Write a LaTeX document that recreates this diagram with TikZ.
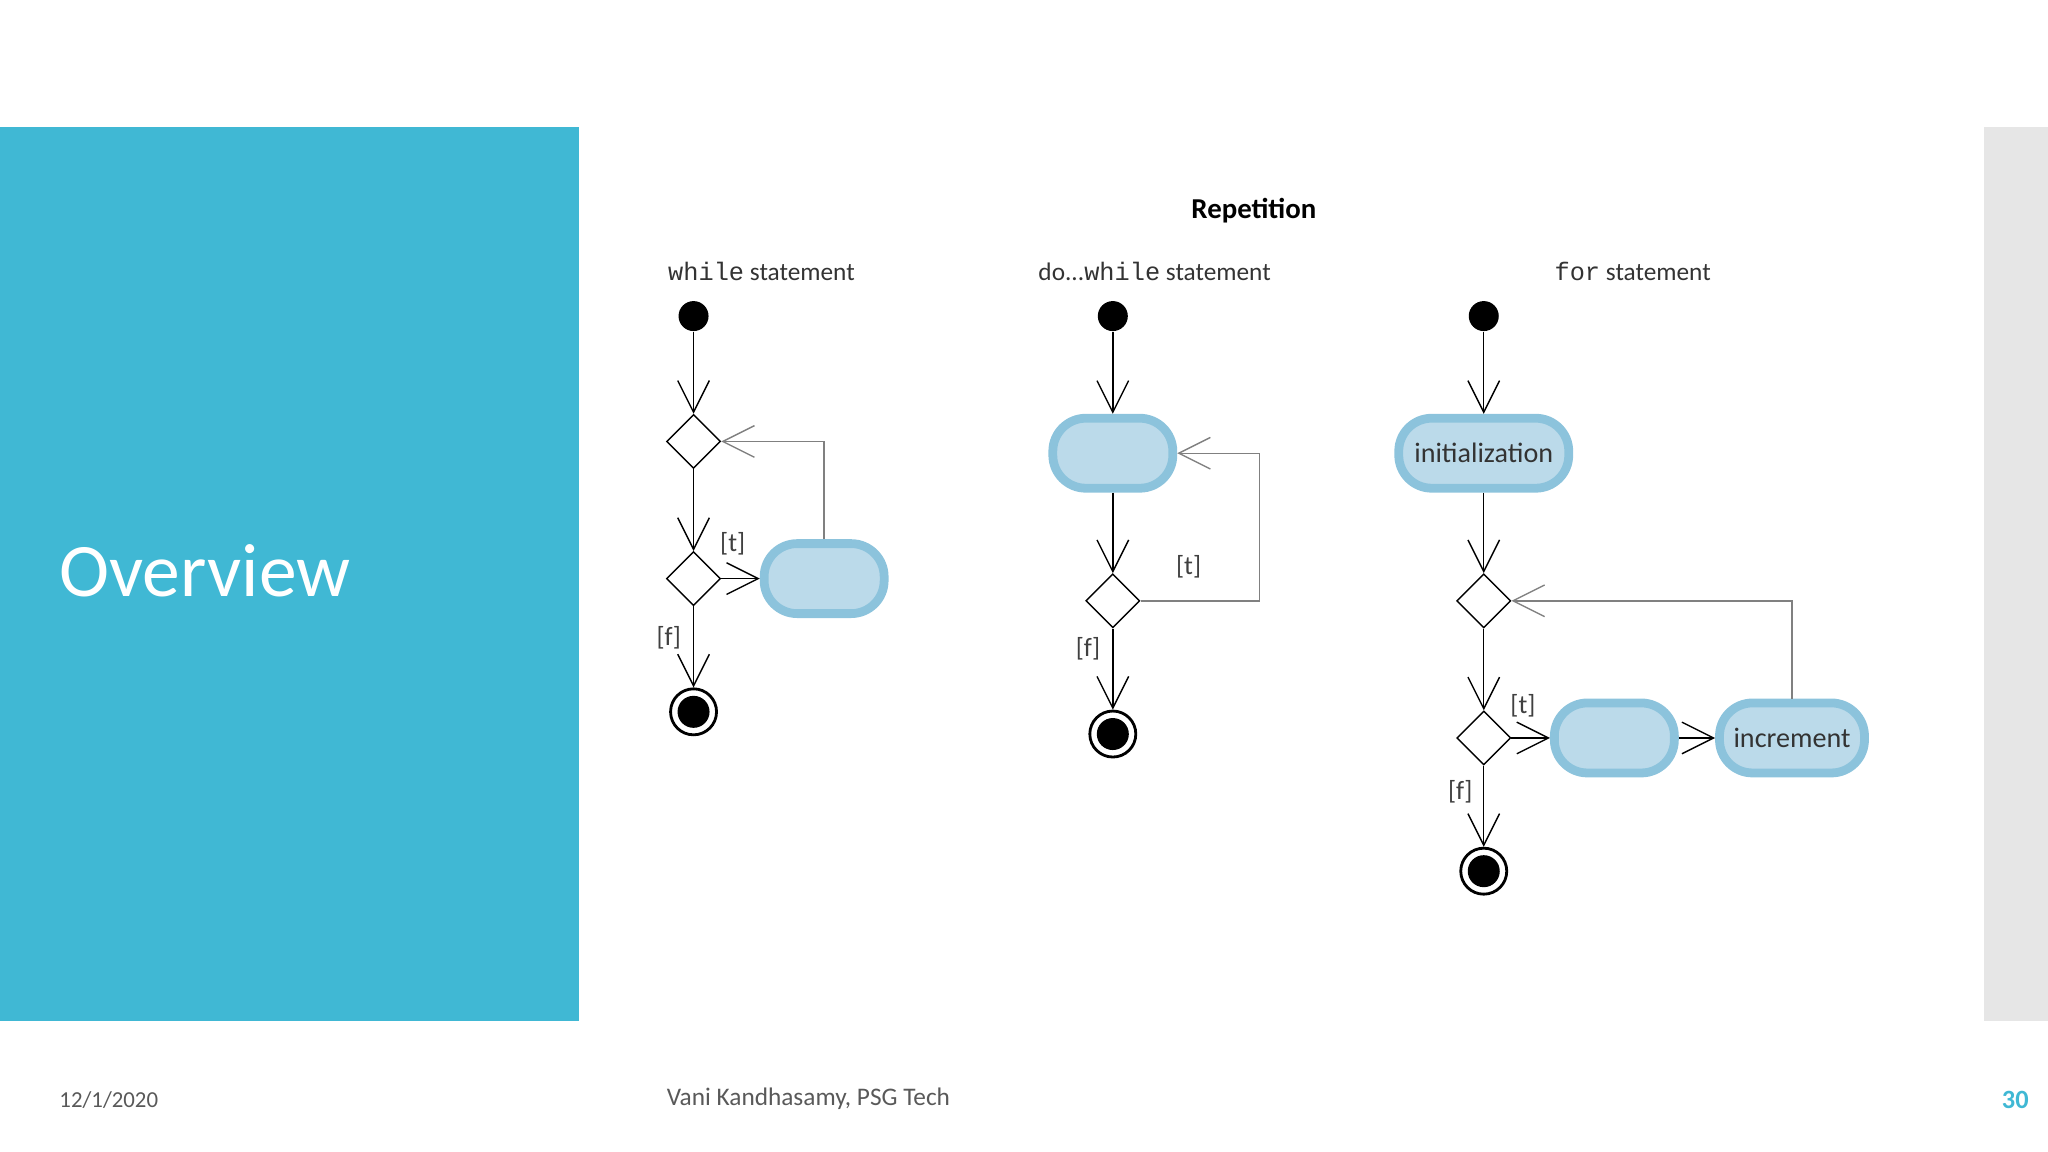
\documentclass[tikz,border=0pt]{standalone}
\usepackage{fontspec}
\setmainfont{Carlito}
\newfontfamily\monofont{Liberation Mono}
\usetikzlibrary{shapes.geometric,arrows.meta}
\definecolor{panel}{HTML}{40B8D4}
\definecolor{strip}{HTML}{E6E6E6}
\definecolor{actfill}{HTML}{BBDAEA}
\definecolor{actdraw}{HTML}{8CC3DC}
\definecolor{footgray}{HTML}{595959}
\tikzset{
  flow/.style = {-{Straight Barb[length=9pt,width=9pt]}, thin},
  back/.style = {flow, gray},
  start/.style = {circle, fill = black, minimum size = 0.3cm, inner sep = 0},
  stop/.style = {circle, draw, thick, minimum size = 0.46cm, inner sep = 0,
    path picture = {\fill (path picture bounding box.center) circle (0.16cm);}},
  decision/.style = {diamond, draw, thin, fill = white, minimum width = 0.54cm,
    minimum height = 0.54cm, inner sep = 0},
  action/.style = {rounded corners = 0.33cm, draw = actdraw, line width = 2.5pt,
    fill = actfill, minimum height = 0.7cm, inner sep = 2pt, text = black!80,
    font = \fontsize{8}{10}\selectfont},
  label/.style = {font = \fontsize{7.2}{9}\selectfont, text = black!80},
  guard/.style = {font = \fontsize{7.5}{9}\selectfont, text = black!75}
}
\begin{document}
\begin{tikzpicture}[x = 0.013061cm, y = -0.013061cm]
		\useasboundingbox (0, 0) rectangle (1568, 882);
		\fill[panel] (0, 97) rectangle (443, 782);
		\fill[strip] (1519, 97) rectangle (1568, 782);
		\node[anchor = west, text = white, font = \fontsize{21.5}{26}\selectfont] (title) at (36, 437) {Overview};
		\node[anchor = west, text = footgray, font = \fontsize{6.5}{8}\selectfont] (date) at (36, 842) {12/1/2020};
		\node[anchor = west, text = footgray, font = \fontsize{7.2}{9}\selectfont] (author) at (501, 841) {Vani Kandhasamy, PSG Tech};
		\node[text = panel, font = \fontsize{7.5}{9}\selectfont\bfseries] (page) at (1543, 842) {30};
		
		\node[font = \fontsize{8.2}{10}\selectfont\bfseries] (head) at (960, 161) {Repetition};
		
		% while
		\node[label] (wlabel) at (583, 208) {{\monofont while} statement};
		\node[start] (ws) at (531, 242) {};
		\node[decision] (wd1) at (531, 338) {};
		\node[decision] (wd2) at (531, 443) {};
		\node[action, minimum width = 1.2cm] (wa) at (631, 443) {};
		\node[stop] (we) at (531, 545) {};
		\draw[flow] (ws) -- (wd1);
		\draw[flow] (wd1) -- (wd2);
		\draw[flow] (wd2) -- (wa);
		\draw[flow] (wd2) -- (we);
		\draw[back] (wa.north) |- (wd1.east);
		\node[guard] (wt) at (561, 416) {[t]};
		\node[guard] (wf) at (512, 488) {[f]};
		
		% do...while
		\node[label] (dlabel) at (884, 208) {do...{\monofont while} statement};
		\node[start] (ds) at (852, 242) {};
		\node[action, minimum width = 1.2cm] (da) at (852, 347) {};
		\node[decision] (dd) at (852, 460) {};
		\node[stop] (de) at (852, 562) {};
		\draw[flow] (ds) -- (da);
		\draw[flow] (da) -- (dd);
		\draw[flow] (dd) -- (de);
		\draw[back] (dd.east) -- ++(91, 0) |- (da.east);
		\node[guard] (dt) at (910, 434) {[t]};
		\node[guard] (df) at (833, 497) {[f]};
		
		% for
		\node[label] (flabel) at (1250, 208) {{\monofont for} statement};
		\node[start] (fs) at (1136, 242) {};
		\node[action, minimum width = 1.7cm] (fi) at (1136, 347) {initialization};
		\node[decision] (fd1) at (1136, 460) {};
		\node[decision] (fd2) at (1136, 565) {};
		\node[action, minimum width = 1.2cm] (fa) at (1236, 565) {};
		\node[action, minimum width = 1.45cm] (fn) at (1372, 565) {increment};
		\node[stop] (fe) at (1136, 667) {};
		\draw[flow] (fs) -- (fi);
		\draw[flow] (fi) -- (fd1);
		\draw[flow] (fd1) -- (fd2);
		\draw[flow] (fd2) -- (fa);
		\draw[flow] (fa) -- (fn);
		\draw[flow] (fd2) -- (fe);
		\draw[back] (fn.north) |- (fd1.east);
		\node[guard] (ft) at (1166, 540) {[t]};
		\node[guard] (ff) at (1118, 606) {[f]};
	\end{tikzpicture}
\end{document}
